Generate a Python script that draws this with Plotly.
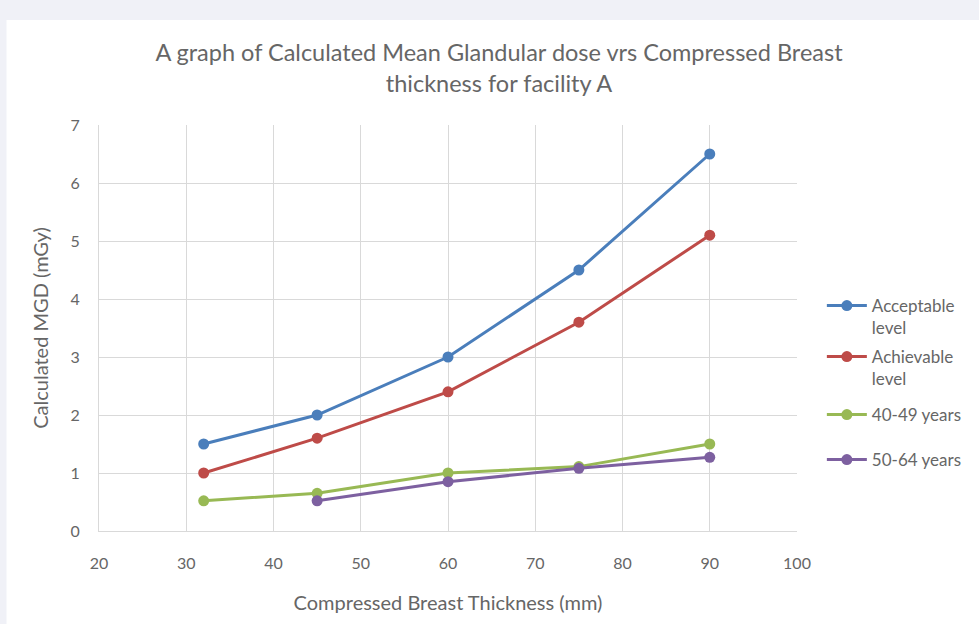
import plotly.graph_objects as go

thickness = [32, 45, 60, 75, 90]
acceptable = [1.5, 2.0, 3.0, 4.5, 6.5]
achievable = [1.0, 1.6, 2.4, 3.6, 5.1]
thickness_4049 = [32, 45, 60, 75, 90]
years_40_49 = [0.52, 0.65, 1.0, 1.11, 1.5]
thickness_5064 = [45, 60, 75, 90]
years_50_64 = [0.52, 0.85, 1.08, 1.27]

series = [
    ("Acceptable<br>level", thickness, acceptable, "#4A7EBB"),
    ("Achievable<br>level", thickness, achievable, "#BE4B48"),
    ("40-49 years", thickness_4049, years_40_49, "#98B954"),
    ("50-64 years", thickness_5064, years_50_64, "#7D60A0"),
]
legend_tops = [288, 339, 397, 442]

TXT = "#666666"
L, R, T, B = 99, 178, 125, 93
W, H = 979, 624
pw, ph = W - L - R, H - T - B

fig = go.Figure()
legend_layout = {}
for i, (name, xs, ys, col) in enumerate(series):
    lg = "legend" if i == 0 else f"legend{i + 1}"
    fig.add_trace(go.Scatter(x=xs, y=ys, name=name, mode="lines+markers",
                             line=dict(color=col, width=3), showlegend=True,
                             marker=dict(color=col, size=11), legend=lg))
    legend_layout[lg] = dict(x=(826 - L) / pw, xanchor="left",
                             y=(H - B - legend_tops[i]) / ph, yanchor="top",
                             font=dict(size=17, color=TXT), valign="top",
                             itemwidth=40, bgcolor="rgba(0,0,0,0)")

fig.add_shape(type="rect", xref="paper", yref="paper", layer="below",
              x0=(6 - L) / pw, x1=(W + 20 - L) / pw,
              y0=(H - B - (H + 20)) / ph, y1=(H - B - 20) / ph,
              fillcolor="white", line=dict(width=0))

fig.update_layout(
    width=W, height=H, showlegend=True,
    margin=dict(l=L, r=R, t=T, b=B),
    paper_bgcolor="#F0F1F7", plot_bgcolor="white",
    font=dict(family="Lato, Open Sans, sans-serif", color=TXT, size=16),
    title=dict(text="A graph of Calculated Mean Glandular dose vrs Compressed Breast<br>thickness for facility A",
               x=499 / W, xanchor="center", y=1 - 61 / H, yanchor="middle",
               font=dict(size=23.5, color=TXT)),
    xaxis=dict(range=[20, 100], dtick=10, showgrid=True, gridcolor="#D9D9D9", gridwidth=1,
               zeroline=False, showline=True, linecolor="#D9D9D9", linewidth=1,
               ticks="", tickfont=dict(size=16, color=TXT), ticklabelstandoff=18,
               title=dict(text="Compressed Breast Thickness (mm)", font=dict(size=20, color=TXT), standoff=24)),
    yaxis=dict(range=[0, 7], dtick=1, showgrid=True, gridcolor="#D9D9D9", gridwidth=1,
               zeroline=False, showline=True, linecolor="#D9D9D9", linewidth=1,
               ticks="", tickfont=dict(size=16, color=TXT),
               ticklabelstandoff=15,
               title=dict(text="Calculated MGD (mGy)", font=dict(size=20, color=TXT), standoff=16)),
    **legend_layout,
)

fig.write_html("out.html", config={"displayModeBar": False},
               post_script="document.body.style.margin='0';document.body.style.background='#F0F1F7';")
